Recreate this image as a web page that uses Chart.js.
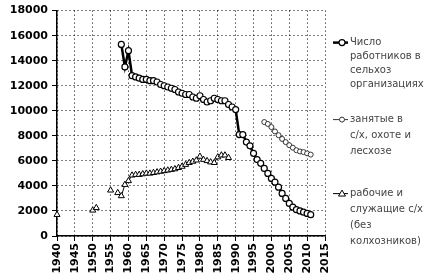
<!DOCTYPE html>
<html>
<head>
<meta charset="utf-8">
<script src="https://cdn.jsdelivr.net/npm/chart.js@4/dist/chart.umd.min.js"></script>
<style>
html,body{margin:0;padding:0;background:#fff;}
#wrap{width:440px;height:280px;position:relative;}
</style>
</head>
<body>
<div id="wrap"><canvas id="c"></canvas></div>
<script>
// ---- data ----
const xTickStart = 1940, xTickEnd = 2015, xTickStep = 5;
const yTickMax = 18000, yTickStep = 2000;

const seriesNames = [
  ["Число", "работников в", "сельхоз", "организациях"],
  ["занятые в", "с/х, охоте и", "лесхозе"],
  ["рабочие и", "служащие с/х", "(без", "колхозников)"]
];

const years1 = [1958,1959,1960,1961,1962,1963,1964,1965,1966,1967,1968,1969,1970,1971,1972,1973,1974,1975,1976,1977,1978,1979,1980,1981,1982,1983,1984,1985,1986,1987,1988,1989,1990,1991,1992,1993,1994,1995,1996,1997,1998,1999,2000,2001,2002,2003,2004,2005,2006,2007,2008,2009,2010,2011];
const values1 = [15300,13500,14800,12800,12700,12600,12500,12500,12400,12400,12300,12100,12000,11900,11800,11700,11500,11400,11300,11300,11100,11000,11200,10900,10700,10800,11000,10900,10800,10800,10500,10300,10100,8100,8100,7500,7200,6600,6100,5800,5400,5000,4600,4300,3900,3400,3000,2600,2300,2100,2000,1900,1800,1700];

const years2 = [1998,1999,2000,2001,2002,2003,2004,2005,2006,2007,2008,2009,2010,2011];
const values2 = [9100,8950,8700,8350,8050,7750,7500,7250,7050,6850,6750,6700,6600,6500];

const years3 = [1940,1950,1951,1955,1957,1958,1959,1960,1961,1962,1963,1964,1965,1966,1967,1968,1969,1970,1971,1972,1973,1974,1975,1976,1977,1978,1979,1980,1981,1982,1983,1984,1985,1986,1987,1988];
const values3 = [1700,2050,2250,3650,3450,3200,4100,4400,4850,4900,4900,4950,5000,5000,5050,5100,5150,5200,5250,5300,5350,5450,5550,5700,5850,5950,6050,6350,6100,6000,5900,5850,6300,6450,6450,6250];

function pts(xs, ys){ return xs.map((x,i)=>({x:x, y:ys[i]})); }

const legendPlugin = {
  id: 'sideLegend',
  afterDraw(chart){
    const ctx = chart.ctx;
    const ca = chart.chartArea;
    const lx = ca.right + 8;
    const tx = ca.right + 25;
    const starts = [ca.top + 32, ca.top + 109, ca.top + 183];
    const lineH = [14, 16, 16];
    ctx.save();
    ctx.font = '10px "DejaVu Sans"';
    ctx.textBaseline = 'middle';
    chart.data.datasets.forEach((ds, i) => {
      const y0 = starts[i];
      ctx.strokeStyle = ds.borderColor;
      ctx.lineWidth = ds.borderWidth;
      ctx.beginPath();
      ctx.moveTo(lx, y0);
      ctx.lineTo(tx - 2, y0);
      ctx.stroke();
      ctx.fillStyle = '#fff';
      ctx.strokeStyle = ds.pointBorderColor;
      ctx.lineWidth = ds.pointBorderWidth;
      ctx.beginPath();
      if (ds.pointStyle === 'triangle') {
        const r = ds.pointRadius;
        ctx.moveTo(lx + 9, y0 - r);
        ctx.lineTo(lx + 9 + r, y0 + r*0.7);
        ctx.lineTo(lx + 9 - r, y0 + r*0.7);
        ctx.closePath();
      } else {
        ctx.arc(lx + 9, y0, ds.pointRadius, 0, Math.PI*2);
      }
      ctx.fill();
      ctx.stroke();
      ctx.fillStyle = '#444';
      seriesNames[i].forEach((t, k) => {
        ctx.fillText(t, tx, y0 + k*lineH[i]);
      });
    });
    ctx.restore();
  }
};

const tickFont = {family: '"DejaVu Sans"', size: 11, weight: 'bold'};

new Chart(document.getElementById('c'), {
  type: 'line',
  data: {
    datasets: [
      {
        label: seriesNames[0].join(' '),
        data: pts(years1, values1),
        borderColor: '#000', borderWidth: 2.5,
        pointStyle: 'circle', pointRadius: 3, pointBorderWidth: 1.2,
        pointBackgroundColor: '#fff', pointBorderColor: '#000', clip: false
      },
      {
        label: seriesNames[1].join(' '),
        data: pts(years2, values2),
        borderColor: '#333', borderWidth: 1,
        pointStyle: 'circle', pointRadius: 2.5, pointBorderWidth: 1,
        pointBackgroundColor: '#fff', pointBorderColor: '#333', clip: false
      },
      {
        label: seriesNames[2].join(' '),
        data: pts(years3, values3),
        borderColor: '#000', borderWidth: 1,
        pointStyle: 'triangle', pointRadius: 3.5, pointBorderWidth: 1,
        pointBackgroundColor: '#fff', pointBorderColor: '#000', clip: false
      }
    ]
  },
  options: {
    responsive: true,
    maintainAspectRatio: false,
    animation: false,
    spanGaps: 1.5,
    layout: {padding: {top: 6, right: 115, left: 0, bottom: 0}},
    plugins: {legend: {display: false}, tooltip: {enabled: false}},
    elements: {line: {tension: 0}},
    scales: {
      x: {
        type: 'linear',
        min: xTickStart, max: xTickEnd,
        afterFit(s){ s.height = 44; },
        ticks: {
          stepSize: xTickStep,
          minRotation: 90, maxRotation: 90,
          autoSkip: false,
          color: '#000', font: tickFont, padding: 2,
          callback: v => String(v)
        },
        grid: {color: '#000', lineWidth: 1, tickLength: 5, tickColor: '#000', tickBorderDash: []},
        border: {display: true, color: '#000', width: 1.5, dash: [1, 3]}
      },
      y: {
        min: 0, max: yTickMax,
        afterFit(s){ s.width = 57; },
        ticks: {
          stepSize: yTickStep,
          color: '#000', font: tickFont, padding: 4,
          callback: v => String(v)
        },
        grid: {color: '#000', lineWidth: 1, tickLength: 5, tickColor: '#000', tickBorderDash: []},
        border: {display: true, color: '#000', width: 1.5, dash: [1, 3]}
      }
    }
  },
  plugins: [legendPlugin]
});
</script>
</body>
</html>
